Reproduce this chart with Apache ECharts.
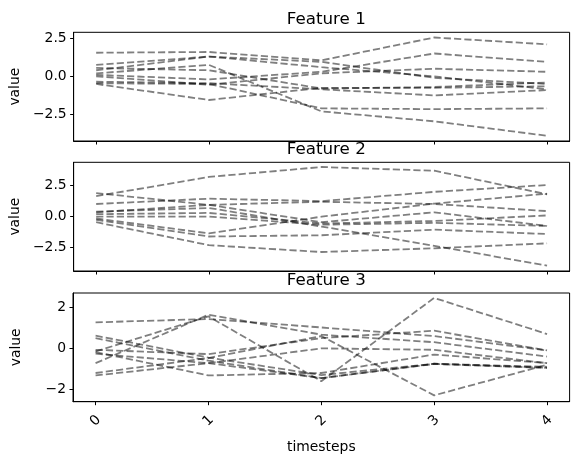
<!DOCTYPE html>
<html>
<head>
<meta charset="utf-8">
<script src="https://cdn.jsdelivr.net/npm/echarts@6/dist/echarts.min.js"></script>
<style>
  html, body { margin: 0; padding: 0; background: #fff; }
  #main { width: 578px; height: 457px; }
</style>
</head>
<body>
<div id="main"></div>
<script>
  // timesteps on the x axis
  var timesteps = [0, 1, 2, 3, 4];

  // one row per sample
  var feature1 = [
    [1.55, 1.6, 1.05, 2.55, 2.1],
    [0.1, -0.2, 0.3, 1.5, 0.95],
    [-0.5, -1.55, -0.75, -0.75, -0.65],
    [0.75, 1.3, 0.95, -0.1, -0.5],
    [0.4, 1.3, 0.6, 0.0, -0.85],
    [-0.45, -0.5, -2.1, -2.15, -2.1],
    [0.2, 0.75, -2.3, -2.95, -3.9],
    [-0.35, -0.45, -0.85, -1.25, -0.9],
    [0.55, 0.4, -0.8, -0.7, -0.4],
    [0.0, -0.55, 0.2, 0.5, 0.3]
  ];
  var feature2 = [
    [1.6, 3.15, 3.95, 3.65, 1.75],
    [1.85, 0.9, -0.5, 0.3, -0.8],
    [0.97, 1.4, 1.2, 1.95, 2.5],
    [0.3, 0.9, 1.15, 0.97, 0.4],
    [0.15, 0.25, -0.6, -0.4, 0.05],
    [-0.05, -0.05, -0.7, -0.55, -0.8],
    [-0.2, -1.4, -0.05, 1.0, 1.8],
    [-0.3, -1.65, -1.55, -1.1, -1.45],
    [-0.5, -2.35, -2.9, -2.6, -2.2],
    [0.35, 0.65, -0.85, -2.4, -4.0]
  ];
  var feature3 = [
    [1.27, 1.43, 1.02, 0.6, -0.1],
    [-0.15, 1.56, -1.6, 2.46, 0.7],
    [-0.72, 1.64, 0.67, 0.3, -0.4],
    [0.62, -0.45, -1.3, -0.75, -0.9],
    [0.5, -0.6, -1.45, -0.75, -0.95],
    [-0.07, -0.28, 0.5, 0.86, -0.1],
    [-0.18, -1.32, -1.2, -0.3, -0.72],
    [-0.26, -0.72, 0.0, -0.07, -0.72],
    [-1.2, -0.47, 0.6, -2.29, -0.8],
    [-1.32, -0.72, -1.45, -0.76, -0.95]
  ];

  var titles = ['Feature 1', 'Feature 2', 'Feature 3'];
  var yTicks = [[-2.5, 0, 2.5], [-2.5, 0, 2.5], [-2, 0, 2]];
  var yRanges = [[-4.24, 2.89], [-4.43, 4.33], [-2.6, 2.7]];

  var font = 'DejaVu Sans';
  var gridTops = [32.3, 162.3, 293];
  var gridH = 108.7;
  var allData = [feature1, feature2, feature3];

  function fmtY(v, dec) {
    var s = dec ? v.toFixed(1) : String(v);
    return s.replace('-', '\u2212');
  }

  var grids = [], xAxes = [], yAxes = [], series = [], titleList = [];
  for (var p = 0; p < 3; p++) {
    grids.push({
      left: 73, right: 8.4, top: gridTops[p], height: gridH,
      show: true, borderColor: '#000', borderWidth: 1, backgroundColor: 'transparent'
    });
    var last = p === 2;
    xAxes.push({
      type: 'value', gridIndex: p, min: -0.2, max: 4.2,
      splitLine: { show: false },
      axisLine: { show: true, onZero: false, lineStyle: { color: '#000', width: 1 } },
      axisTick: { show: true, length: 3.5, customValues: timesteps, lineStyle: { color: '#000' } },
      axisLabel: {
        show: last, customValues: timesteps, rotate: 45, margin: 19,
        align: 'center', verticalAlign: 'middle',
        fontFamily: font, fontSize: 13.9, color: '#000'
      },
      name: last ? 'timesteps' : '', nameLocation: 'middle', nameGap: 39,
      nameTextStyle: { fontFamily: font, fontSize: 13.9, color: '#000' }
    });
    (function (dec) {
      yAxes.push({
        type: 'value', gridIndex: p, min: yRanges[p][0], max: yRanges[p][1],
        splitLine: { show: false },
        axisLine: { show: true, onZero: false, lineStyle: { color: '#000', width: 1 } },
        axisTick: { show: true, length: 3.5, customValues: yTicks[p], lineStyle: { color: '#000' } },
        axisLabel: {
          customValues: yTicks[p], margin: 7,
          fontFamily: font, fontSize: 13.9, color: '#000',
          formatter: function (v) { return fmtY(v, dec); }
        },
        name: 'value', nameLocation: 'middle', nameGap: 50, nameRotate: 90,
        nameTextStyle: { fontFamily: font, fontSize: 13.9, color: '#000' }
      });
    })(p < 2);
    titleList.push({
      text: titles[p], left: 321.3, top: gridTops[p] - 26, textAlign: 'center',
      textStyle: { fontFamily: font, fontSize: 16.7, fontWeight: 'normal', color: '#000' }
    });
    allData[p].forEach(function (row) {
      series.push({
        type: 'line', xAxisIndex: p, yAxisIndex: p, symbol: 'none',
        lineStyle: { color: 'rgba(0,0,0,0.5)', width: 1.8, type: [7.2, 3.1] },
        data: timesteps.map(function (t, i) { return [t, row[i]]; })
      });
    });
  }

  var chart = echarts.init(document.getElementById('main'));
  chart.setOption({
    animation: false,
    backgroundColor: '#fff',
    title: titleList,
    grid: grids,
    xAxis: xAxes,
    yAxis: yAxes,
    series: series
  });
</script>
</body>
</html>
